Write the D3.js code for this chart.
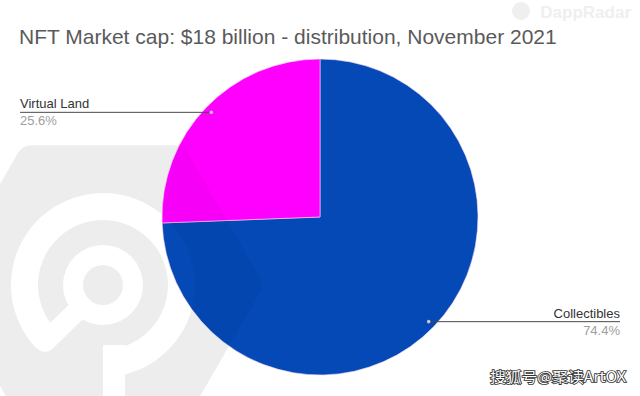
<!DOCTYPE html>
<html>
<head>
<meta charset="utf-8">
<script src="https://cdn.jsdelivr.net/npm/d3@7"></script>
<style>
  body { margin: 0; background: #fff; }
  svg { display: block; font-family: "Liberation Sans", Arial, sans-serif; }
</style>
</head>
<body>
<svg id="chart" width="640" height="396"></svg>
<script>
// data
const categories = ["Collectibles", "Virtual Land"];
const shares = [74.4, 25.6];
const sliceColors = ["#0449b5", "#ff00ff"];
const titleText = "NFT Market cap: $18 billion - distribution, November 2021";

const width = 640, height = 396;
const cx = 320, cy = 217, radius = 158;

const svg = d3.select("#chart");
const defs = svg.append("defs");

const rows = categories.map((c, i) => ({ name: c, value: shares[i], color: sliceColors[i] }));

// watermark logo shape (drawn twice: under the pie and, fainter, over it)
const lc = [103, 285];
const mask = defs.append("mask").attr("id", "logoMask");
mask.append("rect").attr("width", width).attr("height", height).attr("fill", "#fff");
const mg = mask.append("g").attr("transform", `translate(${lc[0]},${lc[1]})`);
mg.append("path")
  .attr("d", d3.arc().innerRadius(20).outerRadius(40).startAngle(0).endAngle(2 * Math.PI)())
  .attr("fill", "#000");
mg.append("line")
  .attr("x1", -22).attr("y1", 22).attr("x2", -58).attr("y2", 57)
  .attr("stroke", "#000").attr("stroke-width", 20).attr("stroke-linecap", "round");
mg.append("path")
  .attr("d", d3.arc().innerRadius(65).outerRadius(92).cornerRadius(12)
    .startAngle(-140 * Math.PI / 180).endAngle(Math.PI)())
  .attr("fill", "#000");
mg.append("rect")
  .attr("x", 0).attr("y", 60).attr("width", 22).attr("height", 60)
  .attr("fill", "#000");

const hexR = 144;
const hexPts = d3.range(6).map(k => {
  const a = k * Math.PI / 3;
  return [lc[0] + hexR * Math.cos(a), lc[1] + hexR * Math.sin(a)];
});

function drawLogo(opacity, clip) {
  const lg = svg.append("g").attr("opacity", opacity);
  if (clip) lg.attr("clip-path", clip);
  lg.append("path")
    .attr("mask", "url(#logoMask)")
    .attr("d", d3.line()(hexPts) + "Z")
    .attr("fill", "#000")
    .attr("stroke", "#000")
    .attr("stroke-width", 30)
    .attr("stroke-linejoin", "round");
}

drawLogo(0.065, null);

// faint brand text top right
svg.append("text")
  .attr("x", 631).attr("y", 18)
  .attr("text-anchor", "end")
  .attr("font-size", 17).attr("font-weight", "bold")
  .attr("fill", "#efefef")
  .text("DappRadar");
svg.append("circle")
  .attr("cx", 521).attr("cy", 11).attr("r", 9)
  .attr("fill", "#efefef");

// title
svg.append("text")
  .attr("x", 19).attr("y", 44)
  .attr("font-size", 21)
  .attr("fill", "#5a5a5a")
  .text(titleText);

// pie
const pie = d3.pie().sort(null).value(d => d.value);
const arc = d3.arc().innerRadius(0).outerRadius(radius);
const dotArc = d3.arc().innerRadius(radius * 0.955).outerRadius(radius * 0.955);

const arcs = pie(rows);

const g = svg.append("g").attr("transform", `translate(${cx},${cy})`);
g.selectAll("path.slice")
  .data(arcs)
  .join("path")
  .attr("class", "slice")
  .attr("d", arc)
  .attr("fill", d => d.data.color)
  .attr("stroke", "#f4d6f4")
  .attr("stroke-width", 0.6);

defs.append("clipPath").attr("id", "pieClip")
  .append("circle").attr("cx", cx).attr("cy", cy).attr("r", radius);
drawLogo(0.03, "url(#pieClip)");

// leader lines and labels
const labels = svg.append("g");
arcs.forEach(d => {
  const [dx, dy] = dotArc.centroid(d);
  const px = cx + dx, py = cy + dy;
  const left = px < cx;
  const endX = left ? 20 : 620;
  labels.append("line")
    .attr("x1", endX).attr("x2", px)
    .attr("y1", py).attr("y2", py)
    .attr("stroke", "#4a4a4a").attr("stroke-width", 1);
  labels.append("circle")
    .attr("cx", px).attr("cy", py).attr("r", 1.8)
    .attr("fill", "#c4c4d0");
  labels.append("text")
    .attr("x", endX).attr("y", py - 4)
    .attr("text-anchor", left ? "start" : "end")
    .attr("font-size", 13).attr("fill", "#333")
    .text(d.data.name);
  labels.append("text")
    .attr("x", endX).attr("y", py + 13)
    .attr("text-anchor", left ? "start" : "end")
    .attr("font-size", 13).attr("fill", "#9e9e9e")
    .text(d3.format(".1f")(d.data.value) + "%");
});

// source watermark bottom right
svg.append("text")
  .attr("x", 490).attr("y", 382)
  .attr("font-family", "'Noto Sans CJK SC', sans-serif")
  .attr("font-size", 14)
  .attr("textLength", 136)
  .attr("lengthAdjust", "spacingAndGlyphs")
  .attr("fill", "#fff")
  .attr("stroke", "#333")
  .attr("stroke-width", 1.6)
  .attr("paint-order", "stroke")
  .text("搜狐号@聚读ArtOX");
</script>
</body>
</html>
